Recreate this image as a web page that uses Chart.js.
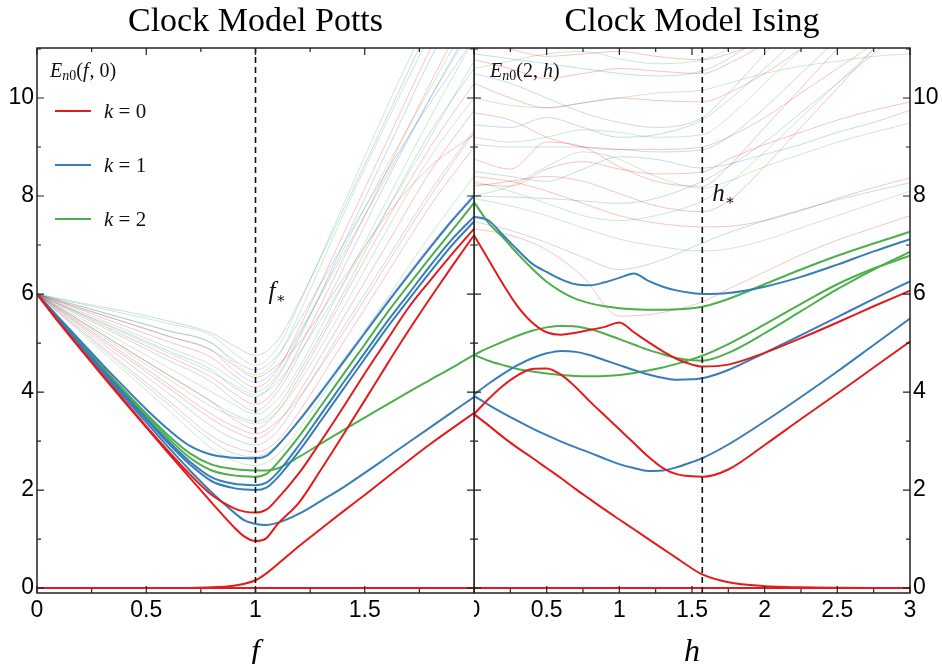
<!DOCTYPE html>
<html>
<head>
<meta charset="utf-8">
<title>Clock Model spectra</title>
<script src="https://cdn.jsdelivr.net/npm/chart.js@4.4.1/dist/chart.umd.min.js"></script>
<style>
  body { margin: 0; background: #fff; }
  #wrap { position: relative; width: 942px; height: 664px; overflow: hidden; }
  #potts { position: absolute; left: 0; top: 0; }
  #ising { position: absolute; left: 474px; top: 0; }
</style>
</head>
<body>
<div id="wrap">
  <canvas id="potts" width="480" height="664"></canvas>
  <canvas id="ising" width="468" height="664"></canvas>
</div>
<script>
// ---- Potts panel: E_n0(f, 0) ----
const fGrid = [0, 0.1, 0.2, 0.3, 0.4, 0.5, 0.6, 0.7, 0.8, 0.9, 0.95, 1.0, 1.05, 1.1, 1.2, 1.3, 1.4, 1.5, 1.6, 1.7, 1.8, 1.9, 2.0];
const pottsGround = fGrid.map(() => 0);
const pottsRed1 = [0, 0, 0, 0, 0, 0, 0.001, 0.003, 0.015, 0.05, 0.09, 0.16, 0.3, 0.48, 0.86, 1.21, 1.56, 1.9, 2.25, 2.6, 2.94, 3.26, 3.57];
const pottsRed2 = [6, 5.42, 4.87, 4.33, 3.8, 3.28, 2.76, 2.25, 1.74, 1.25, 1.05, 0.96, 1.02, 1.3, 1.75, 2.42, 3.12, 3.83, 4.55, 5.25, 5.92, 6.57, 7.2];
const pottsRed3 = [6, 5.43, 4.88, 4.35, 3.82, 3.3, 2.8, 2.32, 1.9, 1.63, 1.56, 1.54, 1.6, 1.82, 2.35, 3.0, 3.68, 4.38, 5.05, 5.72, 6.28, 6.82, 7.33];
const pottsBlue1 = [6, 5.45, 4.92, 4.4, 3.88, 3.38, 2.88, 2.4, 1.95, 1.55, 1.38, 1.31, 1.29, 1.33, 1.52, 1.78, 2.05, 2.35, 2.66, 2.97, 3.28, 3.59, 3.9];
const pottsBlue2 = [6, 5.47, 4.95, 4.44, 3.93, 3.44, 2.96, 2.52, 2.18, 2.04, 2.01, 2.0, 2.05, 2.25, 2.8, 3.42, 4.05, 4.68, 5.3, 5.88, 6.45, 7.0, 7.48];
const pottsBlue3 = [6, 5.48, 4.97, 4.46, 3.96, 3.47, 3.0, 2.58, 2.26, 2.13, 2.11, 2.1, 2.15, 2.35, 2.92, 3.55, 4.18, 4.8, 5.42, 6.0, 6.58, 7.12, 7.58];
const pottsBlue4 = [6, 5.52, 5.04, 4.56, 4.1, 3.65, 3.24, 2.9, 2.72, 2.66, 2.65, 2.65, 2.7, 2.9, 3.42, 4.0, 4.6, 5.2, 5.8, 6.38, 6.95, 7.5, 8.0];
const pottsGreen1 = [6, 5.49, 4.99, 4.49, 4.0, 3.52, 3.06, 2.66, 2.4, 2.3, 2.28, 2.27, 2.33, 2.55, 3.1, 3.72, 4.35, 4.97, 5.6, 6.18, 6.75, 7.3, 7.86];
const pottsGreen2 = [6, 5.5, 5.0, 4.51, 4.03, 3.56, 3.12, 2.75, 2.52, 2.43, 2.41, 2.4, 2.4, 2.44, 2.68, 2.95, 3.22, 3.48, 3.74, 4.0, 4.25, 4.5, 4.76];

// faint higher levels, Potts panel
const fFaint = [0, 0.2, 0.4, 0.6, 0.8, 0.9, 1.0, 1.1, 1.2, 1.4, 1.6, 1.8, 2.0];
const pottsFaintRed = [
  [6, 5.28, 4.55, 3.83, 3.1, 2.88, 2.78, 3.0, 3.6, 5.0, 6.4, 7.8, 9.0],
  [6, 5.36, 4.73, 4.09, 3.45, 3.2, 3.05, 3.35, 4.0, 5.5, 7.0, 8.5, 9.75],
  [6, 5.45, 4.9, 4.35, 3.8, 3.45, 3.25, 3.6, 4.3, 5.9, 7.5, 9.0, 10.3],
  [6, 5.58, 5.15, 4.73, 4.3, 3.98, 3.75, 4.1, 4.9, 6.7, 8.5, 10.3, 12],
  [6, 5.68, 5.35, 5.03, 4.7, 4.35, 4.1, 4.45, 5.3, 7.2, 9.1, 11, 12.8],
  [6, 5.71, 5.43, 5.14, 4.85, 4.55, 4.3, 4.55, 5.0, 6.3, 7.6, 8.6, 9.25],
  [6, 5.39, 4.78, 4.16, 3.55, 3.3, 3.15, 3.4, 3.9, 5.2, 6.6, 8.0, 9.3]
];
const pottsFaintBlue = [
  [6, 5.25, 4.5, 3.75, 3.0, 2.75, 2.68, 2.92, 3.45, 4.65, 5.85, 7.0, 8.05],
  [6, 5.33, 4.65, 3.98, 3.3, 3.05, 2.92, 3.2, 3.85, 5.3, 6.7, 8.1, 9.35],
  [6, 5.45, 4.9, 4.35, 3.8, 3.55, 3.4, 3.7, 4.4, 6.0, 7.7, 9.3, 10.6],
  [6, 5.55, 5.1, 4.65, 4.2, 3.85, 3.62, 4.0, 4.75, 6.5, 8.3, 10.0, 11.6],
  [6, 5.61, 5.23, 4.84, 4.45, 4.1, 3.9, 4.3, 5.1, 7.0, 8.9, 10.8, 12.5],
  [6, 5.71, 5.43, 5.14, 4.85, 4.45, 4.2, 4.5, 5.2, 6.8, 8.4, 10.0, 11.5],
  [6, 5.75, 5.5, 5.25, 5.0, 4.65, 4.45, 4.75, 5.45, 7.0, 8.5, 9.9, 11.2],
  [6, 5.82, 5.65, 5.45, 5.2, 4.95, 4.75, 5.05, 5.85, 7.7, 9.6, 11.5, 13.3]
];
const pottsFaintGreen = [
  [6, 5.21, 4.43, 3.64, 2.85, 2.6, 2.5, 2.72, 3.25, 4.55, 5.9, 7.2, 8.4],
  [6, 5.42, 4.85, 4.27, 3.7, 3.5, 3.35, 3.6, 4.2, 5.7, 7.3, 8.8, 10.0],
  [6, 5.5, 5.0, 4.5, 4.0, 3.75, 3.55, 3.85, 4.5, 6.2, 7.9, 9.6, 11.2],
  [6, 5.64, 5.28, 4.91, 4.55, 4.25, 4.0, 4.35, 5.15, 6.9, 8.6, 10.2, 11.8],
  [6, 5.75, 5.5, 5.25, 5.0, 4.6, 4.35, 4.7, 5.6, 7.6, 9.5, 11.3, 13],
  [6, 5.8, 5.6, 5.4, 5.15, 4.8, 4.55, 4.9, 5.8, 7.8, 9.8, 11.7, 13.5],
  [6, 5.6, 5.2, 4.8, 4.4, 4.15, 3.95, 4.2, 4.8, 6.2, 7.7, 9.2, 10.75]
];

// ---- Ising panel: E_n0(2, h) ----
const hGrid = [0, 0.1, 0.2, 0.3, 0.4, 0.5, 0.6, 0.7, 0.8, 0.9, 1.0, 1.1, 1.2, 1.3, 1.4, 1.5, 1.57, 1.75, 2.0, 2.25, 2.5, 2.75, 3.0];
const isingGround = hGrid.map(() => 0);
const isingRed1 = [3.55, 3.32, 3.08, 2.86, 2.66, 2.45, 2.24, 2.02, 1.81, 1.6, 1.4, 1.2, 1.0, 0.8, 0.6, 0.4, 0.28, 0.12, 0.04, 0.015, 0.005, 0.001, 0];
const isingRed2 = [3.55, 3.86, 4.13, 4.34, 4.47, 4.48, 4.35, 4.1, 3.8, 3.52, 3.24, 2.96, 2.68, 2.45, 2.32, 2.28, 2.27, 2.42, 2.92, 3.45, 3.97, 4.5, 5.03];
const isingRed3 = [7.2, 6.7, 6.2, 5.75, 5.42, 5.22, 5.17, 5.21, 5.27, 5.33, 5.42, 5.22, 5.02, 4.83, 4.67, 4.56, 4.52, 4.56, 4.8, 5.1, 5.42, 5.75, 6.07];
const isingBlue1 = [3.92, 3.74, 3.57, 3.41, 3.26, 3.12, 2.99, 2.87, 2.76, 2.64, 2.53, 2.45, 2.39, 2.4, 2.47, 2.57, 2.65, 2.93, 3.4, 3.9, 4.42, 4.96, 5.5];
const isingBlue2 = [3.95, 4.17, 4.37, 4.55, 4.69, 4.79, 4.84, 4.82, 4.75, 4.65, 4.55, 4.45, 4.36, 4.29, 4.25, 4.26, 4.28, 4.45, 4.8, 5.16, 5.53, 5.9, 6.26];
const isingBlue3 = [7.58, 7.5, 7.2, 6.9, 6.62, 6.45, 6.3, 6.2, 6.18, 6.24, 6.33, 6.42, 6.27, 6.15, 6.07, 6.02, 6.0, 6.02, 6.15, 6.35, 6.6, 6.87, 7.12];
const isingGreen1 = [4.76, 4.64, 4.55, 4.47, 4.42, 4.38, 4.35, 4.33, 4.32, 4.33, 4.35, 4.39, 4.44, 4.5, 4.58, 4.67, 4.74, 4.98, 5.38, 5.8, 6.2, 6.52, 6.78];
const isingGreen2 = [4.76, 4.9, 5.03, 5.15, 5.25, 5.32, 5.35, 5.34, 5.28, 5.19, 5.08, 4.97, 4.86, 4.77, 4.69, 4.65, 4.64, 4.8, 5.2, 5.65, 6.1, 6.5, 6.86];
const isingGreen3 = [7.88, 7.45, 7.15, 6.82, 6.52, 6.25, 6.05, 5.9, 5.81, 5.75, 5.71, 5.69, 5.68, 5.68, 5.69, 5.71, 5.74, 5.9, 6.2, 6.5, 6.78, 7.03, 7.27];

const hFaint = [0, 0.25, 0.5, 0.75, 1.0, 1.25, 1.57, 1.75, 2.0, 2.25, 2.5, 2.75, 3.0];
const isingFaintRed = [
  [7.33, 7.2, 6.9, 6.35, 5.55, 5.6, 5.84, 6.1, 6.45, 6.8, 7.1, 7.35, 7.6],
  [8.2, 8.3, 8.4, 8.3, 8.05, 7.8, 7.68, 7.9, 8.6, 9.4, 10.2, 11.0, 11.8],
  [8.4, 8.3, 8.1, 7.85, 7.6, 7.45, 7.37, 7.38, 7.5, 7.7, 7.95, 8.17, 8.37],
  [8.25, 8.2, 8.55, 8.7, 8.55, 8.45, 8.49, 8.75, 9.05, 9.3, 9.55, 9.75, 9.92],
  [8.75, 8.55, 9.1, 9.0, 8.6, 8.3, 8.2, 8.6, 9.4, 10.2, 11.0, 11.7, 12.3],
  [9.7, 9.55, 9.2, 9.0, 8.95, 8.95, 9.0, 9.2, 9.6, 10.1, 10.6, 11.1, 11.6],
  [10.3, 10.0, 9.8, 9.9, 10.0, 9.95, 9.92, 10.1, 10.5, 11.0, 11.5, 12, 12.5],
  [10.78, 10.6, 10.4, 10.5, 10.6, 10.55, 10.5, 10.7, 11.1, 11.5, 12, 12.5, 13],
  [11.2, 11.0, 10.85, 10.9, 10.95, 10.85, 10.78, 10.9, 11.2, 11.6, 12, 12.4, 12.8]
];
const isingFaintBlue = [
  [7.48, 7.3, 7.05, 6.75, 6.5, 6.65, 7.04, 7.25, 7.5, 7.72, 7.92, 8.1, 8.27],
  [8.0, 7.98, 7.95, 7.9, 7.85, 7.95, 8.3, 8.6, 9.1, 9.7, 10.3, 10.9, 11.5],
  [8.5, 8.4, 8.3, 8.55, 8.8, 8.75, 8.57, 8.65, 8.85, 9.05, 9.3, 9.5, 9.75],
  [9.05, 9.0, 9.0, 9.0, 8.95, 8.9, 8.94, 9.2, 9.8, 10.5, 11.2, 11.9, 12.5],
  [9.45, 9.4, 9.6, 9.4, 9.2, 9.25, 9.55, 9.95, 10.6, 11.3, 12, 12.7, 13.3],
  [10.5, 10.3, 10.0, 9.7, 9.5, 9.4, 9.6, 10.1, 10.9, 11.7, 12.5, 13, 13.5],
  [10.9, 10.8, 10.7, 10.6, 10.5, 10.45, 10.55, 10.8, 11.3, 11.9, 12.5, 13, 13.5]
];
const isingFaintGreen = [
  [7.95, 7.8, 7.6, 7.35, 7.12, 6.98, 6.88, 6.92, 7.1, 7.35, 7.6, 7.85, 8.1],
  [8.0, 8.2, 8.6, 8.9, 8.75, 8.4, 8.16, 8.3, 8.6, 8.85, 9.1, 9.3, 9.49],
  [9.2, 9.1, 9.2, 9.35, 9.3, 9.2, 9.25, 9.6, 10.3, 11.0, 11.8, 12.5, 13],
  [10.0, 9.85, 9.8, 9.9, 10.0, 10.1, 10.16, 10.3, 10.5, 10.65, 10.75, 10.85, 10.9],
  [10.6, 10.75, 10.9, 10.95, 10.8, 10.7, 10.78, 11.0, 11.4, 11.8, 12.2, 12.6, 13],
  [8.3, 8.1, 7.85, 7.6, 7.5, 7.6, 7.9, 8.25, 8.9, 9.6, 10.3, 11.0, 11.7]
];

const yTicks = [0, 2, 4, 6, 8, 10];
const fTicks = [0, 0.5, 1, 1.5];
const hTicks = [0, 0.5, 1, 1.5, 2, 2.5, 3];
const fStar = 1;
const hStar = Math.PI / 2;
const yMin = -0.1, yMax = 11.02;

const RED = '#e41a1c', BLUE = '#377eb8', GREEN = '#4daf4a';
const FAINT = { red: 'rgba(228,26,28,0.26)', blue: 'rgba(55,126,184,0.28)', green: 'rgba(77,175,74,0.28)' };
const SERIF = '"Liberation Serif", "DejaVu Serif", serif';
const SANS = '"Liberation Sans", Arial, sans-serif';

function pts(xs, ys) {
  return xs.map((x, i) => ({ x: x, y: ys[i] }));
}

function curve(xs, ys, color, width) {
  return {
    data: pts(xs, ys),
    borderColor: color,
    borderWidth: width,
    pointRadius: 0,
    fill: false,
    cubicInterpolationMode: 'monotone'
  };
}

function dashed(x) {
  return {
    data: [{ x: x, y: yMin }, { x: x, y: yMax }],
    borderColor: '#111',
    borderWidth: 1.6,
    borderDash: [6, 4],
    pointRadius: 0,
    fill: false
  };
}

function faintSets(xs, reds, blues, greens) {
  const out = [];
  reds.forEach(r => out.push(curve(xs, r, FAINT.red, 1)));
  blues.forEach(b => out.push(curve(xs, b, FAINT.blue, 1)));
  greens.forEach(g => out.push(curve(xs, g, FAINT.green, 1)));
  return out;
}

// draws a little math string piece by piece
function drawMath(ctx, x, y, parts) {
  parts.forEach(p => {
    ctx.font = (p.it ? 'italic ' : '') + p.size + 'px ' + SERIF;
    ctx.fillText(p.t, x, y + (p.dy || 0));
    x += ctx.measureText(p.t).width + (p.gap || 0);
  });
}

// frame and inward ticks on all four sides
const framePlugin = {
  id: 'frame',
  afterDraw(chart) {
    const { ctx, chartArea: a, scales: { x, y } } = chart;
    ctx.save();
    ctx.strokeStyle = '#222';
    ctx.lineWidth = 1.5;
    ctx.strokeRect(a.left, a.top, a.right - a.left, a.bottom - a.top);
    ctx.lineWidth = 1.2;
    ctx.beginPath();
    for (let i = Math.round(x.min * 4); i <= Math.round(x.max * 4); i++) {
      const px = x.getPixelForValue(i / 4);
      const len = i % 2 === 0 ? 7 : 4;
      ctx.moveTo(px, a.bottom); ctx.lineTo(px, a.bottom - len);
      ctx.moveTo(px, a.top); ctx.lineTo(px, a.top + len);
    }
    for (let v = 0; v <= y.max; v++) {
      const py = y.getPixelForValue(v);
      const len = v % 2 === 0 ? 7 : 4;
      ctx.moveTo(a.left, py); ctx.lineTo(a.left + len, py);
      ctx.moveTo(a.right, py); ctx.lineTo(a.right - len, py);
    }
    ctx.stroke();
    ctx.restore();
  }
};

const pottsText = {
  id: 'pottsText',
  afterDraw(chart) {
    const { ctx, scales: { x } } = chart;
    ctx.save();
    ctx.fillStyle = '#111';
    ctx.textBaseline = 'alphabetic';
    drawMath(ctx, 50, 77, [
      { t: 'E', it: true, size: 20 },
      { t: 'n', it: true, size: 14, dy: 3 },
      { t: '0', size: 14, dy: 3 },
      { t: '(', size: 20 },
      { t: 'f', it: true, size: 20, gap: 1 },
      { t: ', 0)', size: 20 }
    ]);
    const items = [[RED, '0', 111], [BLUE, '1', 165], [GREEN, '2', 219]];
    items.forEach(([c, k, ly]) => {
      ctx.strokeStyle = c;
      ctx.lineWidth = 2;
      ctx.beginPath(); ctx.moveTo(55, ly); ctx.lineTo(91, ly); ctx.stroke();
      drawMath(ctx, 104, ly + 7, [
        { t: 'k', it: true, size: 21 },
        { t: ' = ' + k, size: 21 }
      ]);
    });
    const sx = x.getPixelForValue(fStar) + 13;
    drawMath(ctx, sx, 299, [
      { t: 'f', it: true, size: 25 },
      { t: '\u2217', size: 15, dy: 4 }
    ]);
    ctx.restore();
  }
};

const isingText = {
  id: 'isingText',
  afterDraw(chart) {
    const { ctx, scales: { x } } = chart;
    ctx.save();
    ctx.fillStyle = '#111';
    drawMath(ctx, 16, 77, [
      { t: 'E', it: true, size: 20 },
      { t: 'n', it: true, size: 14, dy: 3 },
      { t: '0', size: 14, dy: 3 },
      { t: '(2, ', size: 20 },
      { t: 'h', it: true, size: 20 },
      { t: ')', size: 20 }
    ]);
    const sx = x.getPixelForValue(hStar) + 10;
    drawMath(ctx, sx, 201, [
      { t: 'h', it: true, size: 25 },
      { t: '\u2217', size: 15, dy: 4 }
    ]);
    ctx.restore();
  }
};

function panelOptions(title, xLabel, xMax, xTicks, yPos, yWidth, rightPad) {
  return {
    responsive: false,
    animation: false,
    events: [],
    layout: { padding: { left: 0, right: rightPad, top: 0, bottom: 0 } },
    plugins: {
      legend: { display: false },
      tooltip: { enabled: false },
      title: {
        display: true,
        text: title,
        fullSize: false,
        color: '#000',
        font: { family: SERIF, size: 34, weight: 'normal', lineHeight: 1.2 },
        padding: { top: 2, bottom: 5.2 }
      }
    },
    scales: {
      x: {
        type: 'linear',
        min: 0,
        max: xMax,
        grid: { display: false, drawTicks: false },
        border: { display: false },
        ticks: { color: '#000', padding: 4, font: { family: SANS, size: 23 }, callback: v => String(v) },
        title: {
          display: true,
          text: xLabel,
          color: '#000',
          font: { family: SERIF, size: 32, style: 'italic', lineHeight: 1.0 },
          padding: { top: 0, bottom: -5 }
        },
        afterBuildTicks: s => { s.ticks = xTicks.map(v => ({ value: v })); },
        afterFit: s => { s.height = 71; s.paddingLeft = 0; s.paddingRight = 0; }
      },
      y: {
        type: 'linear',
        position: yPos,
        min: yMin,
        max: yMax,
        grid: { display: false, drawTicks: false },
        border: { display: false },
        ticks: { color: '#000', padding: 3, font: { family: SANS, size: 23 }, callback: v => String(v) },
        afterBuildTicks: s => { s.ticks = yTicks.map(v => ({ value: v })); },
        afterFit: s => { s.width = yWidth; s.paddingTop = 0; s.paddingBottom = 0; }
      }
    }
  };
}

const pottsData = [
  dashed(fStar),
  curve(fGrid, pottsGround, RED, 2),
  curve(fGrid, pottsRed1, RED, 2),
  curve(fGrid, pottsRed2, RED, 2),
  curve(fGrid, pottsRed3, RED, 2),
  curve(fGrid, pottsBlue1, BLUE, 2),
  curve(fGrid, pottsBlue2, BLUE, 2),
  curve(fGrid, pottsBlue3, BLUE, 2),
  curve(fGrid, pottsBlue4, BLUE, 2),
  curve(fGrid, pottsGreen1, GREEN, 2),
  curve(fGrid, pottsGreen2, GREEN, 2)
].concat(faintSets(fFaint, pottsFaintRed, pottsFaintBlue, pottsFaintGreen));

const isingData = [
  dashed(hStar),
  curve(hGrid, isingGround, RED, 2),
  curve(hGrid, isingRed1, RED, 2),
  curve(hGrid, isingRed2, RED, 2),
  curve(hGrid, isingRed3, RED, 2),
  curve(hGrid, isingBlue1, BLUE, 2),
  curve(hGrid, isingBlue2, BLUE, 2),
  curve(hGrid, isingBlue3, BLUE, 2),
  curve(hGrid, isingGreen1, GREEN, 2),
  curve(hGrid, isingGreen2, GREEN, 2),
  curve(hGrid, isingGreen3, GREEN, 2)
].concat(faintSets(hFaint, isingFaintRed, isingFaintBlue, isingFaintGreen));

new Chart(document.getElementById('potts'), {
  type: 'line',
  data: { datasets: pottsData },
  options: panelOptions('Clock Model Potts', 'f', 2, fTicks, 'left', 37, 6),
  plugins: [framePlugin, pottsText]
});

new Chart(document.getElementById('ising'), {
  type: 'line',
  data: { datasets: isingData },
  options: panelOptions('Clock Model Ising', 'h', 3, hTicks, 'right', 32, 0),
  plugins: [framePlugin, isingText]
});
</script>
</body>
</html>
